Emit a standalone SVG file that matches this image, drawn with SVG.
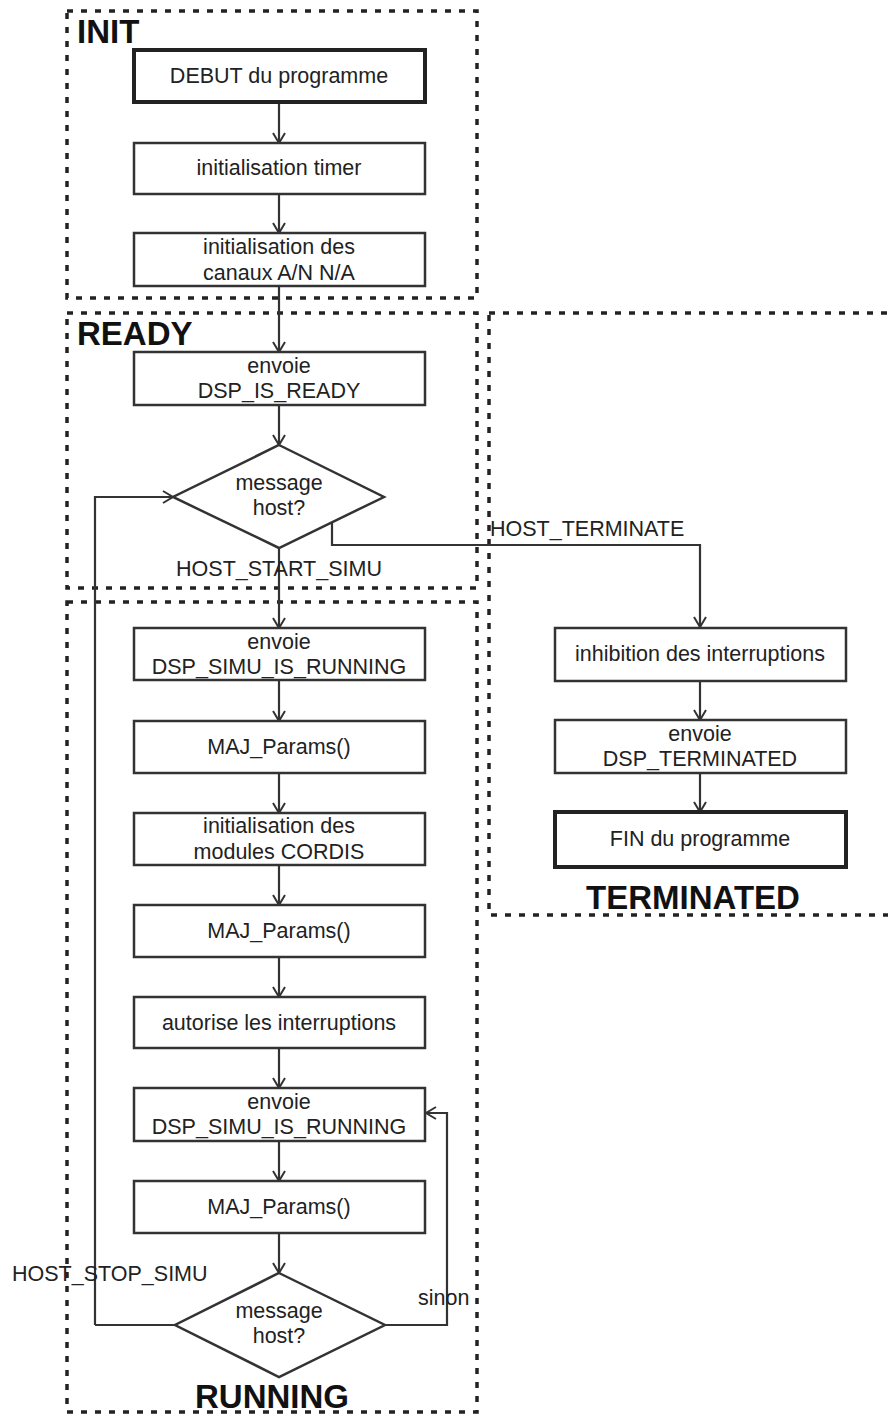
<svg xmlns="http://www.w3.org/2000/svg" width="888" height="1416" viewBox="0 0 888 1416">
<defs>
<marker id="ah" markerWidth="14" markerHeight="14" refX="12" refY="7" orient="auto" markerUnits="userSpaceOnUse">
<path d="M2,1 L12,7 L2,13" fill="none" stroke="#333" stroke-width="2"/>
</marker>
<style>
.box{fill:#fff;stroke:#333;stroke-width:2.5}
.thick{fill:#fff;stroke:#222;stroke-width:4}
.reg{fill:none;stroke:#222;stroke-width:3.5;stroke-dasharray:6 8}
.t{font-family:"Liberation Sans",Arial,sans-serif;font-size:21.5px;fill:#222;text-anchor:middle}
.lab{font-family:"Liberation Sans",Arial,sans-serif;font-size:21.5px;fill:#222}
.big{font-family:"Liberation Sans",Arial,sans-serif;font-size:33px;font-weight:bold;fill:#111}
.c{fill:none;stroke:#333;stroke-width:2.2;marker-end:url(#ah)}
.cn{fill:none;stroke:#333;stroke-width:2.2}
</style>
</defs>
<rect width="888" height="1416" fill="#fff"/>
<g id="regions">
<rect id="reg-init" class="reg" x="67" y="11" width="410" height="287"/>
<rect id="reg-ready" class="reg" x="67" y="313" width="410" height="275"/>
<rect id="reg-terminated" class="reg" x="489" y="313" width="410" height="602"/>
<rect id="reg-running" class="reg" x="67" y="602" width="410" height="810"/>
<text class="big" x="77" y="43">INIT</text>
<text class="big" x="77" y="345">READY</text>
<text class="big" x="693" y="909" text-anchor="middle">TERMINATED</text>
<text class="big" x="272" y="1408" text-anchor="middle">RUNNING</text>
</g>
<g id="connectors">
<line class="c" x1="279" y1="102" x2="279" y2="143"/>
<line class="c" x1="279" y1="194" x2="279" y2="233"/>
<line class="c" x1="279" y1="286" x2="279" y2="352"/>
<line class="c" x1="279" y1="405" x2="279" y2="445"/>
<polyline class="c" points="95,1325 95,497 173,497"/>
<polyline class="c" points="332,522 332,545 700,545 700,627"/>
<line class="c" x1="279" y1="548" x2="279" y2="628"/>
<line class="c" x1="279" y1="680" x2="279" y2="721"/>
<line class="c" x1="279" y1="773" x2="279" y2="813"/>
<line class="c" x1="279" y1="865" x2="279" y2="905"/>
<line class="c" x1="279" y1="957" x2="279" y2="997"/>
<line class="c" x1="279" y1="1048" x2="279" y2="1088"/>
<line class="c" x1="279" y1="1141" x2="279" y2="1181"/>
<line class="c" x1="279" y1="1233" x2="279" y2="1273"/>
<polyline class="cn" points="175,1325 95,1325"/>
<polyline class="c" points="385,1325 447,1325 447,1113 426,1113"/>
<line class="c" x1="700" y1="681" x2="700" y2="720"/>
<line class="c" x1="700" y1="773" x2="700" y2="812"/>
<text class="lab" x="490" y="536">HOST_TERMINATE</text>
<text class="t" x="279" y="576">HOST_START_SIMU</text>
<text class="lab" x="12" y="1281">HOST_STOP_SIMU</text>
<text class="lab" x="418" y="1305">sinon</text>
</g>
<g id="n-debut"><rect class="thick" x="134" y="50" width="291" height="52"/><text class="t" x="279" y="83">DEBUT du programme</text></g>
<g id="n-timer"><rect class="box" x="134" y="143" width="291" height="51"/><text class="t" x="279" y="175">initialisation timer</text></g>
<g id="n-canaux"><rect class="box" x="134" y="233" width="291" height="53"/><text class="t" x="279" y="254">initialisation des</text><text class="t" x="279" y="280">canaux A/N N/A</text></g>
<g id="n-ready"><rect class="box" x="134" y="352" width="291" height="53"/><text class="t" x="279" y="373">envoie</text><text class="t" x="279" y="398">DSP_IS_READY</text></g>
<g id="n-msg1"><polygon class="box" points="279,445 384,497 279,548 173,497"/><text class="t" x="279" y="490">message</text><text class="t" x="279" y="515">host?</text></g>
<g id="n-run1"><rect class="box" x="134" y="628" width="291" height="52"/><text class="t" x="279" y="649">envoie</text><text class="t" x="279" y="674">DSP_SIMU_IS_RUNNING</text></g>
<g id="n-maj1"><rect class="box" x="134" y="721" width="291" height="52"/><text class="t" x="279" y="754">MAJ_Params()</text></g>
<g id="n-cordis"><rect class="box" x="134" y="813" width="291" height="52"/><text class="t" x="279" y="833">initialisation des</text><text class="t" x="279" y="859">modules CORDIS</text></g>
<g id="n-maj2"><rect class="box" x="134" y="905" width="291" height="52"/><text class="t" x="279" y="938">MAJ_Params()</text></g>
<g id="n-autorise"><rect class="box" x="134" y="997" width="291" height="51"/><text class="t" x="279" y="1030">autorise les interruptions</text></g>
<g id="n-run2"><rect class="box" x="134" y="1088" width="291" height="53"/><text class="t" x="279" y="1109">envoie</text><text class="t" x="279" y="1134">DSP_SIMU_IS_RUNNING</text></g>
<g id="n-maj3"><rect class="box" x="134" y="1181" width="291" height="52"/><text class="t" x="279" y="1214">MAJ_Params()</text></g>
<g id="n-msg2"><polygon class="box" points="279,1273 385,1325 279,1377 175,1325"/><text class="t" x="279" y="1318">message</text><text class="t" x="279" y="1343">host?</text></g>
<g id="n-inhib"><rect class="box" x="555" y="628" width="291" height="53"/><text class="t" x="700" y="661">inhibition des interruptions</text></g>
<g id="n-term"><rect class="box" x="555" y="720" width="291" height="53"/><text class="t" x="700" y="741">envoie</text><text class="t" x="700" y="766">DSP_TERMINATED</text></g>
<g id="n-fin"><rect class="thick" x="555" y="812" width="291" height="55"/><text class="t" x="700" y="846">FIN du programme</text></g>
</svg>
